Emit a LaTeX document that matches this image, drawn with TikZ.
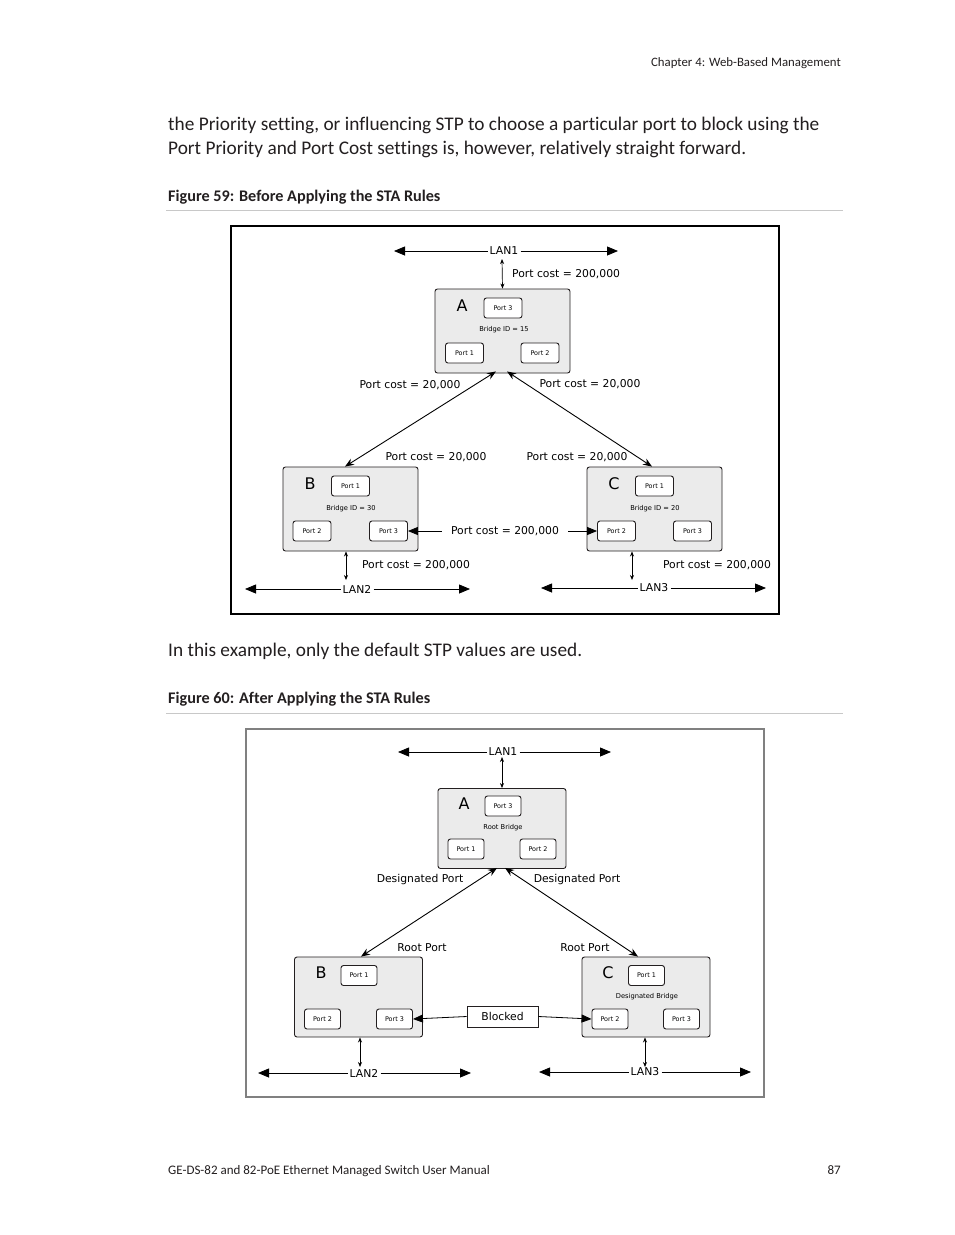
\documentclass[tikz,border=0pt]{standalone}
\usepackage{fontspec}
\setmainfont{Carlito}[Ligatures={NoCommon}]
\newfontfamily\dia{DejaVu Sans}
\usetikzlibrary{arrows.meta}
\definecolor{boxgray}{HTML}{EBEBEB}
\definecolor{rulegray}{HTML}{C8C8C8}
\definecolor{framegray}{HTML}{808080}
\definecolor{ink}{HTML}{231F20}
\begin{document}
\begin{tikzpicture}[x=1pt,y=-1pt,
  pagetxt/.style={inner sep=0, anchor=base west, text=ink},
  bridge/.style={draw=ink, rounded corners=2.5, fill=boxgray, line width=0.9, minimum width=135, minimum height=84, inner sep=0},
  bridgeb/.style={bridge, minimum width=128, minimum height=80},
  portbox/.style={draw=ink, rounded corners=2.5, fill=white, line width=0.9, minimum width=38, minimum height=20, inner sep=0, font=\dia\fontsize{6.4}{7}\selectfont},
  portboxb/.style={portbox, minimum width=36, minimum height=20},
  letter/.style={inner sep=0, font=\dia\fontsize{16}{18}\selectfont},
  small/.style={inner sep=0, font=\dia\fontsize{6.7}{7}\selectfont},
  lbl/.style={inner sep=0, font=\dia\fontsize{10.8}{12}\selectfont},
  lanlbl/.style={inner sep=2, font=\dia\fontsize{10.8}{12}\selectfont},
  lanarr/.style={line width=0.8, -{Triangle[length=11pt,width=9pt]}},
  midarr/.style={line width=0.8, -{Triangle[length=10pt,width=8pt]}},
  diag/.style={line width=0.9, {Stealth[length=9pt,width=7pt]}-{Stealth[length=9pt,width=7pt]}},
  vert/.style={line width=0.7, {Stealth[length=5pt,width=4pt]}-{Stealth[length=5pt,width=4pt]}}
]
\useasboundingbox (0,0) rectangle (954,1235);
\fill[white] (0,0) rectangle (954,1235);

% ---------- page text ----------
\node[pagetxt, anchor=base east, font=\fontsize{12.8}{14}\selectfont] (hdr) at (841,66) {Chapter 4: Web-Based Management};
\node[pagetxt, font=\fontsize{19.3}{21}\selectfont] (p1) at (168,130) {the Priority setting, or influencing STP to choose a particular port to block using the};
\node[pagetxt, font=\fontsize{19.3}{21}\selectfont] (p2) at (168,154) {Port Priority and Port Cost settings is, however, relatively straight forward.};
\node[pagetxt, font=\bfseries\fontsize{16.2}{18}\selectfont] (cap59) at (168,201) {Figure 59: Before Applying the STA Rules};
\draw[rulegray, line width=0.8] (166,210) -- (843,210);
\node[pagetxt, font=\fontsize{19.3}{21}\selectfont] (p3) at (168,656) {In this example, only the default STP values are used.};
\node[pagetxt, font=\bfseries\fontsize{16.2}{18}\selectfont] (cap60) at (168,703) {Figure 60: After Applying the STA Rules};
\draw[rulegray, line width=0.8] (166,713) -- (843,713);
\node[pagetxt, font=\fontsize{13}{15}\selectfont] (foot) at (168,1174) {GE-DS-82 and 82-PoE Ethernet Managed Switch User Manual};
\node[pagetxt, anchor=base east, font=\fontsize{13}{15}\selectfont] (pg) at (841,1174) {87};

% ---------- Figure 59 ----------
\draw[black, line width=1.4] (231,226) rectangle (779,614);

\node[lanlbl] (l1a) at (504,251) {LAN1};
\coordinate (l1aL) at (394,251);
\coordinate (l1aR) at (618,251);
\draw[lanarr] (l1a.west) -- (l1aL);
\draw[lanarr] (l1a.east) -- (l1aR);

\node[bridge] (A1) at (502.5,331) {};
\node[letter] (A1l) at (462,306) {A};
\node[portbox] (A1p3) at (503,308) {Port 3};
\node[small] (A1id) at (504,330) {Bridge ID = 15};
\node[portbox] (A1p1) at (464.5,353) {Port 1};
\node[portbox] (A1p2) at (540,353) {Port 2};
\draw[vert] (502,259) -- (A1.north);
\node[lbl, anchor=west] (c1) at (512,274) {Port cost = 200,000};

\node[bridge] (B1) at (350.5,509) {};
\node[letter] (B1l) at (310,484) {B};
\node[portbox] (B1p1) at (350.5,486) {Port 1};
\node[small] (B1id) at (351,509) {Bridge ID = 30};
\node[portbox] (B1p2) at (312,531) {Port 2};
\node[portbox] (B1p3) at (388.5,531) {Port 3};

\node[bridge] (C1) at (654.5,509) {};
\node[letter] (C1l) at (614,484) {C};
\node[portbox] (C1p1) at (654.5,486) {Port 1};
\node[small] (C1id) at (655,509) {Bridge ID = 20};
\node[portbox] (C1p2) at (616.5,531) {Port 2};
\node[portbox] (C1p3) at (692.5,531) {Port 3};

\draw[diag] ([xshift=-6.5,yshift=2]A1.south) -- ([xshift=-5.5]B1.north);
\draw[diag] ([xshift=4.5,yshift=2]A1.south) -- ([xshift=-2.5]C1.north);
\node[lbl] (c2) at (410,385) {Port cost = 20,000};
\node[lbl] (c3) at (590,384) {Port cost = 20,000};
\node[lbl] (c4) at (436,457) {Port cost = 20,000};
\node[lbl] (c5) at (577,457) {Port cost = 20,000};

\node[lbl, inner xsep=9] (c6) at (505,531) {Port cost = 200,000};
\draw[midarr] (c6.west) -- (B1p3.east);
\draw[midarr] (c6.east) -- (C1p2.west);

\node[lanlbl] (l2a) at (357,589) {LAN2};
\coordinate (l2aL) at (245,589);
\coordinate (l2aR) at (470,589);
\draw[lanarr] (l2a.west) -- (l2aL);
\draw[lanarr] (l2a.east) -- (l2aR);
\draw[vert] ([xshift=-4.5]B1.south) -- (346,580);
\node[lbl] (c7) at (416,565) {Port cost = 200,000};

\node[lanlbl] (l3a) at (654,588) {LAN3};
\coordinate (l3aL) at (541,588);
\coordinate (l3aR) at (766,588);
\draw[lanarr] (l3a.west) -- (l3aL);
\draw[lanarr] (l3a.east) -- (l3aR);
\draw[vert] ([xshift=-22.5]C1.south) -- (632,580);
\node[lbl] (c8) at (717,565) {Port cost = 200,000};

% ---------- Figure 60 ----------
\draw[framegray, line width=1.1] (246,729) rectangle (764,1097);

\node[lanlbl] (l1b) at (503,752) {LAN1};
\coordinate (l1bL) at (398,752);
\coordinate (l1bR) at (611,752);
\draw[lanarr] (l1b.west) -- (l1bL);
\draw[lanarr] (l1b.east) -- (l1bR);

\node[bridgeb] (A2) at (502,828.5) {};
\node[letter] (A2l) at (464,804) {A};
\node[portboxb] (A2p3) at (503,806) {Port 3};
\node[small] (A2id) at (503,828) {Root Bridge};
\node[portboxb] (A2p1) at (466,849) {Port 1};
\node[portboxb] (A2p2) at (538,849) {Port 2};
\draw[vert] (502,757) -- (A2.north);

\node[bridgeb] (B2) at (358.5,997) {};
\node[letter] (B2l) at (321,973) {B};
\node[portboxb] (B2p1) at (359,975.5) {Port 1};
\node[portboxb] (B2p2) at (322.5,1019) {Port 2};
\node[portboxb] (B2p3) at (394.5,1019) {Port 3};

\node[bridgeb] (C2) at (646,997) {};
\node[letter] (C2l) at (608,973) {C};
\node[portboxb] (C2p1) at (646.5,975.5) {Port 1};
\node[small] (C2id) at (647,997) {Designated Bridge};
\node[portboxb] (C2p2) at (610,1019) {Port 2};
\node[portboxb] (C2p3) at (681.5,1019) {Port 3};

\draw[diag] ([xshift=-5,yshift=1]A2.south) -- ([xshift=2.5]B2.north);
\draw[diag] ([xshift=3,yshift=1]A2.south) -- ([xshift=-8]C2.north);
\node[lbl] (d1) at (420,880) {Designated Port};
\node[lbl] (d2) at (577,880) {Designated Port};
\node[lbl] (r1) at (422,948) {Root Port};
\node[lbl] (r2) at (585,948) {Root Port};

\node[draw=ink, line width=0.8, minimum width=71, minimum height=21, inner sep=0, font=\dia\fontsize{10.8}{12}\selectfont] (blk) at (502.5,1016.5) {Blocked};
\draw[midarr] (blk.west) -- (B2p3.east);
\draw[midarr] (blk.east) -- (C2p2.west);

\node[lanlbl] (l2b) at (364,1073) {LAN2};
\coordinate (l2bL) at (258,1073);
\coordinate (l2bR) at (471,1073);
\draw[lanarr] (l2b.west) -- (l2bL);
\draw[lanarr] (l2b.east) -- (l2bR);
\draw[vert] ([xshift=1.5]B2.south) -- (360,1067);

\node[lanlbl] (l3b) at (645,1072) {LAN3};
\coordinate (l3bL) at (539,1072);
\coordinate (l3bR) at (751,1072);
\draw[lanarr] (l3b.west) -- (l3bL);
\draw[lanarr] (l3b.east) -- (l3bR);
\draw[vert] ([xshift=-1]C2.south) -- (645,1067);
\end{tikzpicture}
\end{document}
